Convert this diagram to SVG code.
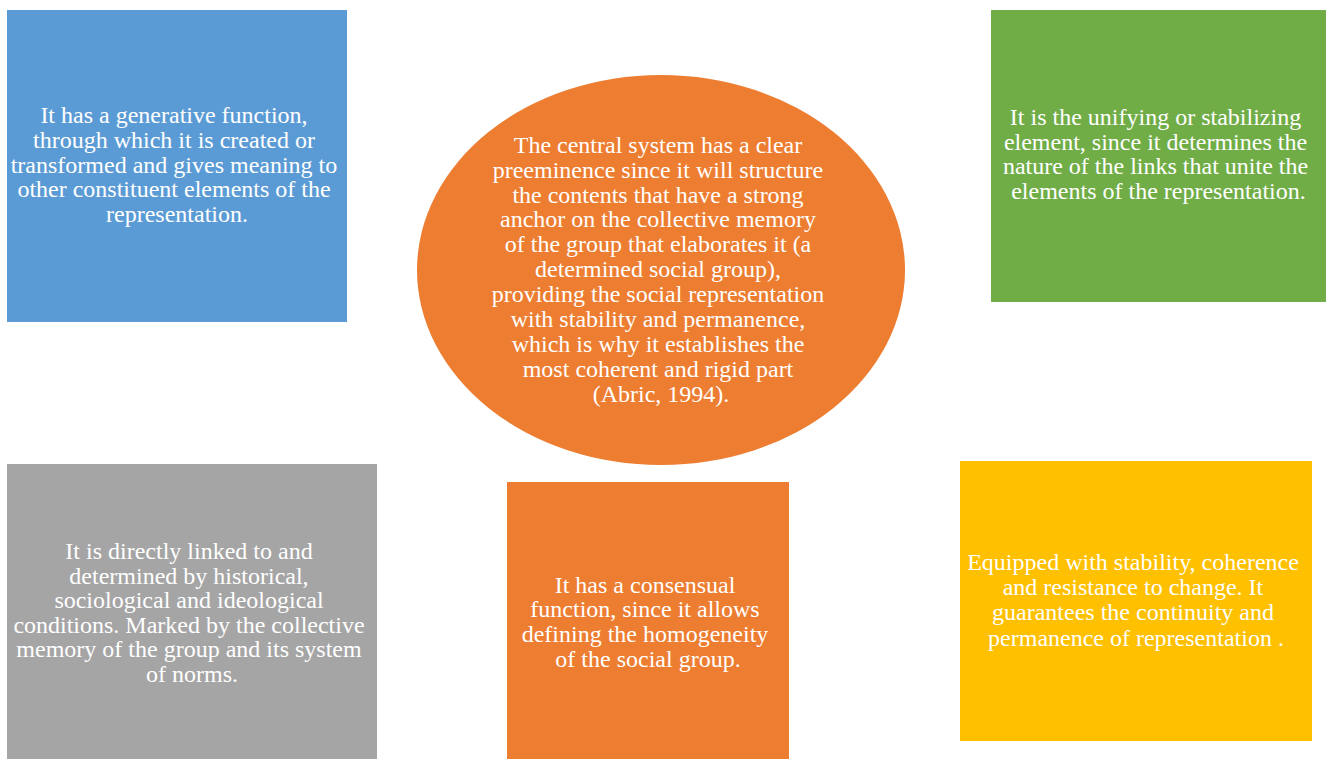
<svg xmlns="http://www.w3.org/2000/svg" width="1331" height="759" viewBox="0 0 1331 759">
  <style>
    .lbl { font-family: "Liberation Serif", "Times New Roman", serif; font-size: 24px; fill: #ffffff; text-anchor: middle; }
    .blue { fill: #5B9BD5; }
    .orange { fill: #ED7D31; }
    .green { fill: #70AD47; }
    .gray { fill: #A5A5A5; }
    .yellow { fill: #FFC000; }
  </style>
  <rect width="1331" height="759" fill="#ffffff"/>

  <!-- central element -->
  <g id="central-system">
    <ellipse class="orange" cx="661" cy="270" rx="244" ry="195"/>
    <text class="lbl">
      <tspan x="661" y="152.7">The central system has a clear</tspan>
      <tspan x="661" y="177.6">preeminence since it will structure</tspan>
      <tspan x="661" y="202.5">the contents that have a strong</tspan>
      <tspan x="661" y="227.4">anchor on the collective memory</tspan>
      <tspan x="661" y="252.3">of the group that elaborates it (a</tspan>
      <tspan x="661" y="277.2">determined social group),</tspan>
      <tspan x="661" y="302.1">providing the social representation</tspan>
      <tspan x="661" y="327">with stability and permanence,</tspan>
      <tspan x="661" y="351.9">which is why it establishes the</tspan>
      <tspan x="661" y="376.8">most coherent and rigid part</tspan>
      <tspan x="661" y="401.7">(Abric, 1994).</tspan>
    </text>
  </g>

  <g id="generative-function">
    <rect class="blue" x="7" y="10" width="340" height="312"/>
    <text class="lbl">
      <tspan x="177" y="123.3">It has a generative function,</tspan>
      <tspan x="177" y="148">through which it is created or</tspan>
      <tspan x="177" y="172.7">transformed and gives meaning to</tspan>
      <tspan x="177" y="197.4">other constituent elements of the</tspan>
      <tspan x="177" y="222.1">representation.</tspan>
    </text>
  </g>

  <g id="unifying-element">
    <rect class="green" x="991" y="10" width="335" height="292"/>
    <text class="lbl">
      <tspan x="1158.5" y="125">It is the unifying or stabilizing</tspan>
      <tspan x="1158.5" y="149.6">element, since it determines the</tspan>
      <tspan x="1158.5" y="174.2">nature of the links that unite the</tspan>
      <tspan x="1158.5" y="198.8">elements of the representation.</tspan>
    </text>
  </g>

  <g id="historical-conditions">
    <rect class="gray" x="7" y="464" width="370" height="295"/>
    <text class="lbl">
      <tspan x="192" y="559">It is directly linked to and</tspan>
      <tspan x="192" y="583.5">determined by historical,</tspan>
      <tspan x="192" y="608">sociological and ideological</tspan>
      <tspan x="192" y="632.5">conditions. Marked by the collective</tspan>
      <tspan x="192" y="657">memory of the group and its system</tspan>
      <tspan x="192" y="681.5">of norms.</tspan>
    </text>
  </g>

  <g id="consensual-function">
    <rect class="orange" x="507" y="482" width="282" height="277"/>
    <text class="lbl">
      <tspan x="648" y="592.7">It has a consensual</tspan>
      <tspan x="648" y="617.4">function, since it allows</tspan>
      <tspan x="648" y="642.1">defining the homogeneity</tspan>
      <tspan x="648" y="666.8">of the social group.</tspan>
    </text>
  </g>

  <g id="stability">
    <rect class="yellow" x="960" y="461" width="352" height="280"/>
    <text class="lbl">
      <tspan x="1136" y="570">Equipped with stability, coherence</tspan>
      <tspan x="1136" y="595.2">and resistance to change. It</tspan>
      <tspan x="1136" y="620.4">guarantees the continuity and</tspan>
      <tspan x="1136" y="645.6">permanence of representation .</tspan>
    </text>
  </g>

  <g id="connectors"></g>
</svg>
